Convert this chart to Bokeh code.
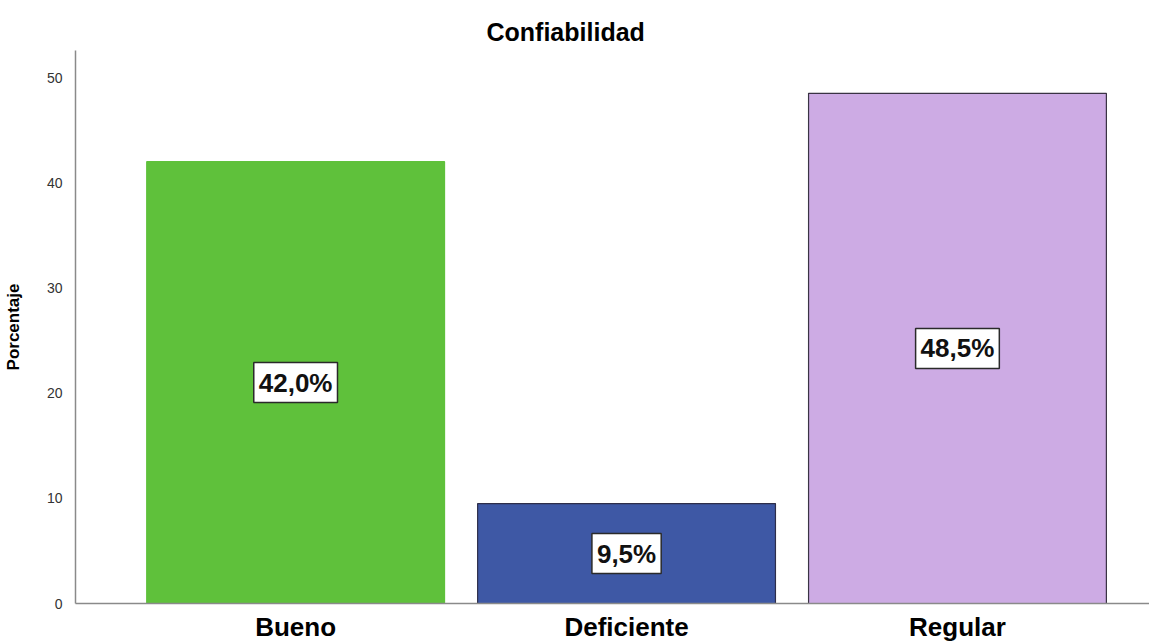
from bokeh.plotting import figure
from bokeh.models import Range1d, FixedTicker, ColumnDataSource
from bokeh.core.properties import value
from bokeh.embed import file_html
from bokeh.resources import INLINE

categories = ["Bueno", "Deficiente", "Regular"]
percentages = [42.0, 9.5, 48.5]
bar_colors = ["#5FC13B", "#3E58A5", "#CDABE4"]
bar_outlines = ["#5FC13B", "#2E2E4A", "#3A3344"]
y_ticks = [0, 10, 20, 30, 40, 50]

xs = list(range(1, len(categories) + 1))
labels = [("%.1f" % v).replace(".", ",") + "%" for v in percentages]
mids = [v / 2 for v in percentages]

src = ColumnDataSource(dict(x=xs, top=percentages, color=bar_colors,
                            outline=bar_outlines, label=labels, mid=mids))

p = figure(width=1149, height=644, output_backend="svg", toolbar_location=None,
           x_range=Range1d(0.3348, 3.5803), y_range=Range1d(0, 52.57),
           min_border_left=69, min_border_right=0, min_border_top=50,
           min_border_bottom=30, title="Confiabilidad")

p.vbar(x="x", top="top", bottom=0, width=0.9, source=src,
       fill_color="color", line_color="outline", line_width=1.2)

p.text(x="x", y="mid", text="label", source=src,
       text_font=value("Liberation Sans"), text_font_size="26px",
       text_font_style="bold", text_color="#111111",
       text_align="center", text_baseline="middle",
       background_fill_color="white", border_line_color="#2a2a2a",
       border_line_width=1.5, padding=5)

p.title.text_font = "Liberation Sans"
p.title.text_font_size = "25px"
p.title.text_font_style = "bold"
p.title.align = "left"
p.title.offset = 411
p.title.text_color = "#000000"

p.xgrid.visible = False
p.ygrid.visible = False
p.outline_line_color = None

p.yaxis.ticker = FixedTicker(ticks=y_ticks)
p.yaxis.axis_label = "Porcentaje"
p.yaxis.axis_label_text_font = "Liberation Sans"
p.yaxis.axis_label_text_font_size = "17px"
p.yaxis.axis_label_text_font_style = "bold"
p.yaxis.axis_label_text_color = "#000000"
p.yaxis.axis_label_standoff = 21
p.yaxis.major_label_text_font = "Liberation Sans"
p.yaxis.major_label_text_font_size = "14px"
p.yaxis.major_label_text_color = "#333333"
p.yaxis.major_label_standoff = 7

p.xaxis.ticker = FixedTicker(ticks=xs)
p.xaxis.major_label_overrides = {x: c for x, c in zip(xs, categories)}
p.xaxis.major_label_text_font = "Liberation Sans"
p.xaxis.major_label_text_font_size = "26px"
p.xaxis.major_label_text_font_style = "bold"
p.xaxis.major_label_text_color = "#000000"
p.xaxis.major_label_standoff = 2

for ax in (p.xaxis, p.yaxis):
    ax.major_tick_line_color = None
    ax.minor_tick_line_color = None
    ax.axis_line_color = "#8a8a8a"
    ax.axis_line_width = 1.5

open("out.html", "w").write(file_html(p, INLINE))
